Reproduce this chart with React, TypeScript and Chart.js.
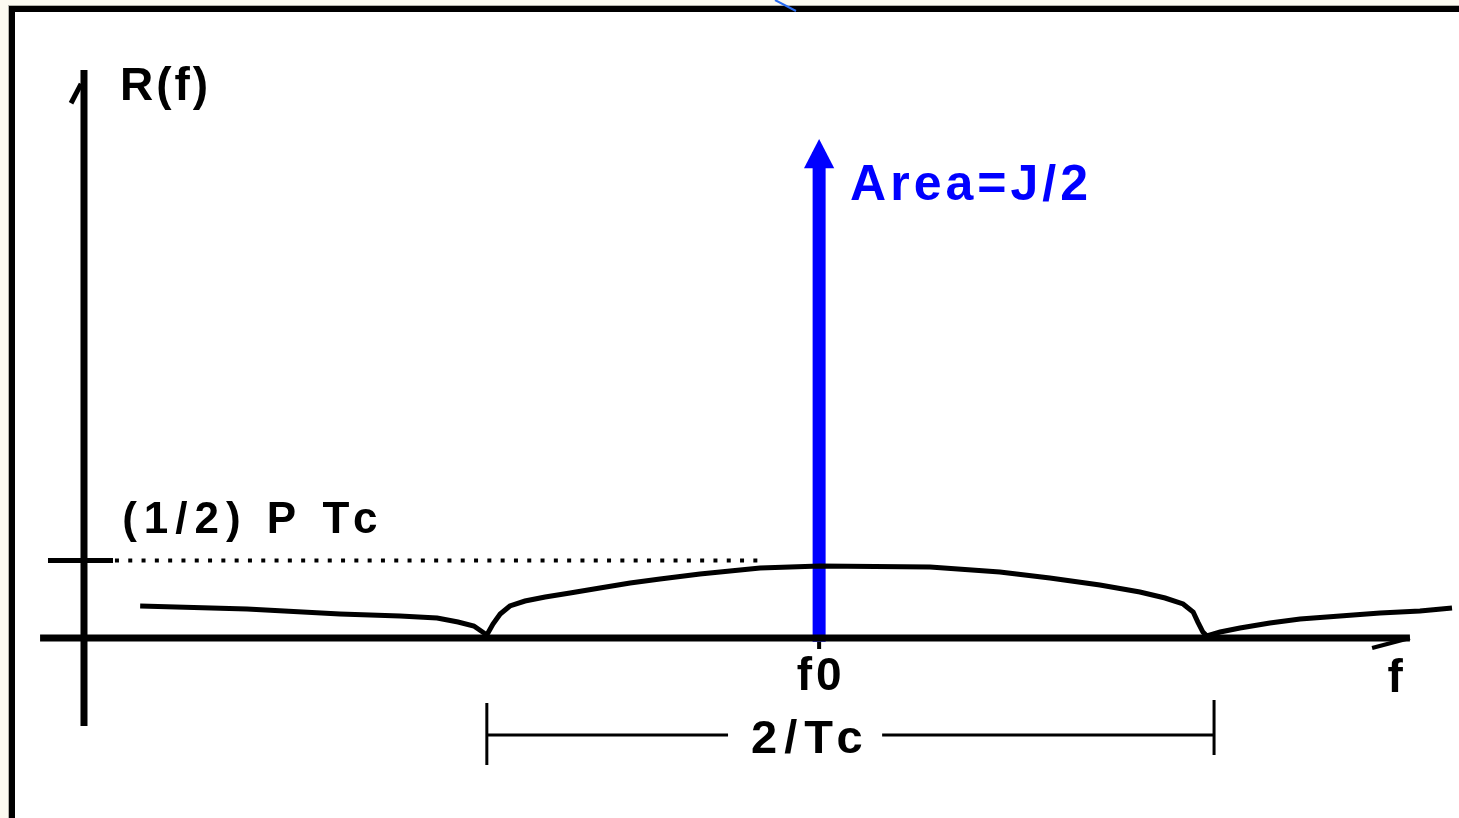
import React, { useEffect, useRef } from "react";
import { Chart, registerables } from "chart.js";

Chart.register(...registerables);

// Axis ranges (frequency in units of 1/Tc, spectrum level in units of (1/2)·P·Tc)
const X_MIN = -0.2333;
const X_MAX = 3.8194;
const Y_MIN = -2.3226;
const Y_MAX = 8.2323;

const F0 = 2.042;

// Power spectrum R(f)
const curveF = [
  0.156, 0.453, 0.711, 0.878, 0.981, 1.039, 1.083, 1.119,
  1.136, 1.156, 1.183, 1.225, 1.281, 1.35, 1.433, 1.517, 1.6, 1.711, 1.878, 2.044, 2.35,
  2.544, 2.683, 2.822, 2.933, 3.003, 3.053, 3.081, 3.094, 3.108, 3.119,
  3.156, 3.211, 3.294, 3.378, 3.489, 3.6, 3.711, 3.8,
];
const curveR = [
  0.413, 0.374, 0.31, 0.284, 0.258, 0.206, 0.155, 0.039,
  0.181, 0.31, 0.413, 0.477, 0.529, 0.581, 0.645, 0.71, 0.761, 0.826, 0.903, 0.929, 0.916,
  0.852, 0.774, 0.684, 0.594, 0.516, 0.439, 0.335, 0.206, 0.077, 0.026,
  0.077, 0.129, 0.194, 0.245, 0.284, 0.323, 0.348, 0.387,
];

// Carrier impulse at f0
const impulseF = [F0, F0];
const impulseR = [-0.05, 6.27];
const impulseTip = 6.44;
const impulseHeadBase = 6.06;
const impulseHeadHalfWidth = 0.042;

// Axes
const xAxisF = [-0.122, 3.683];
const xAxisR = [0, 0];
const xArrowF = [3.578, 3.683];
const xArrowR = [-0.129, 0];
const yAxisF = [0, 0];
const yAxisR = [-1.135, 7.33];
const yArrowF = [-0.036, -0.008];
const yArrowR = [6.9, 7.15];

// (1/2) P Tc level marker
const levelTickF = [-0.1, 0.0806];
const levelTickR = [1, 1];
const levelDotF = [0.086, 1.878];
const levelDotR = [1, 1];

// f0 tick
const f0TickF = [F0, F0];
const f0TickR = [-0.05, -0.142];

// 2/Tc dimension
const dimLeftF = [1.119, 1.789];
const dimRightF = [2.217, 3.139];
const dimR = [-1.252, -1.252];
const dimTickLeftF = [1.119, 1.119];
const dimTickLeftR = [-0.839, -1.639];
const dimTickRightF = [3.139, 3.139];
const dimTickRightR = [-0.8, -1.51];

// Text labels
const labelTexts = ["R(f)", "(1/2) P Tc", "Area=J/2", "f0", "f", "2/Tc"];
const labelF = [0.1, 0.106, 2.128, 2.042, 3.642, 2.008];
const labelR = [6.94, 1.355, 5.652, -0.671, -0.697, -1.484];
const labelAlign = ["left", "left", "left", "center", "center", "center"];
const labelSize = [46, 44, 50, 46, 46, 47];
const labelSpacing = [3, 7, 4, 4, 0, 7];
const labelColor = ["#000", "#000", "#0000ff", "#000", "#000", "#000"];

const pts = (xs: number[], ys: number[]) => xs.map((x, i) => ({ x, y: ys[i] }));

const seg = (xs: number[], ys: number[], color: string, width: number, dash: number[] = []) => ({
  data: pts(xs, ys),
  showLine: true,
  borderColor: color,
  borderWidth: width,
  borderDash: dash,
  pointRadius: 0,
  tension: 0,
  fill: false,
});

const framePlugin = {
  id: "frame",
  beforeDraw(chart: any) {
    const ctx = chart.ctx;
    const w = chart.width;
    const h = chart.height;
    ctx.save();
    ctx.fillStyle = "#fcfbf1";
    ctx.fillRect(0, 0, w, h);
    ctx.fillStyle = "#b4b4ac";
    ctx.fillRect(8, 5, w, 1);
    ctx.fillRect(8, 5, 1, h);
    ctx.fillStyle = "#ffffff";
    ctx.fillRect(9, 6, w, h);
    ctx.fillStyle = "#000000";
    ctx.fillRect(9, 6, w, 6);
    ctx.fillRect(9, 6, 6, h);
    ctx.strokeStyle = "#2a6cf0";
    ctx.lineWidth = 2;
    ctx.beginPath();
    ctx.moveTo(775, 0);
    ctx.lineTo(796, 11);
    ctx.stroke();
    ctx.restore();
  },
};

const decorPlugin = {
  id: "decor",
  afterDatasetsDraw(chart: any) {
    const ctx = chart.ctx;
    const xs = chart.scales.x;
    const ys = chart.scales.y;
    ctx.save();
    // impulse arrowhead
    ctx.fillStyle = "#0000ff";
    ctx.beginPath();
    ctx.moveTo(xs.getPixelForValue(F0), ys.getPixelForValue(impulseTip));
    ctx.lineTo(xs.getPixelForValue(F0 + impulseHeadHalfWidth), ys.getPixelForValue(impulseHeadBase));
    ctx.lineTo(xs.getPixelForValue(F0 - impulseHeadHalfWidth), ys.getPixelForValue(impulseHeadBase));
    ctx.closePath();
    ctx.fill();
    // labels
    labelTexts.forEach((t, i) => {
      ctx.font = `bold ${labelSize[i]}px "Liberation Sans", Arial, sans-serif`;
      (ctx as any).letterSpacing = `${labelSpacing[i]}px`;
      ctx.fillStyle = labelColor[i];
      ctx.textBaseline = "alphabetic";
      ctx.textAlign = "left";
      const wdt = ctx.measureText(t).width - labelSpacing[i];
      let px = xs.getPixelForValue(labelF[i]);
      if (labelAlign[i] === "center") px -= wdt / 2;
      ctx.fillText(t, px, ys.getPixelForValue(labelR[i]));
    });
    ctx.restore();
  },
};

export default function App() {
  const ref = useRef<HTMLCanvasElement | null>(null);
  useEffect(() => {
    if (!ref.current) return;
    const chart = new Chart(ref.current, {
      type: "scatter",
      data: {
        datasets: [
          seg(levelDotF, levelDotR, "#000", 4, [4, 9.3]),
          seg(levelTickF, levelTickR, "#000", 5),
          seg(yAxisF, yAxisR, "#000", 7),
          seg(yArrowF, yArrowR, "#000", 5),
          seg(xAxisF, xAxisR, "#000", 7),
          seg(xArrowF, xArrowR, "#000", 4),
          seg(curveF, curveR, "#000", 5),
          seg(f0TickF, f0TickR, "#000", 4),
          seg(dimLeftF, dimR, "#000", 3),
          seg(dimRightF, dimR, "#000", 3),
          seg(dimTickLeftF, dimTickLeftR, "#000", 3),
          seg(dimTickRightF, dimTickRightR, "#000", 3),
          seg(impulseF, impulseR, "#0000ff", 13),
        ] as any,
      },
      options: {
        animation: false,
        responsive: false,
        events: [],
        layout: { padding: 0 },
        plugins: { legend: { display: false }, tooltip: { enabled: false } },
        scales: {
          x: { type: "linear", min: X_MIN, max: X_MAX, display: false },
          y: { type: "linear", min: Y_MIN, max: Y_MAX, display: false },
        },
      },
      plugins: [framePlugin, decorPlugin],
    });
    return () => chart.destroy();
  }, []);
  return (
    <div style={{ position: "fixed", left: 0, top: 0, width: 1459, height: 818 }}>
      <canvas ref={ref} width={1459} height={818} style={{ display: "block" }} />
    </div>
  );
}
